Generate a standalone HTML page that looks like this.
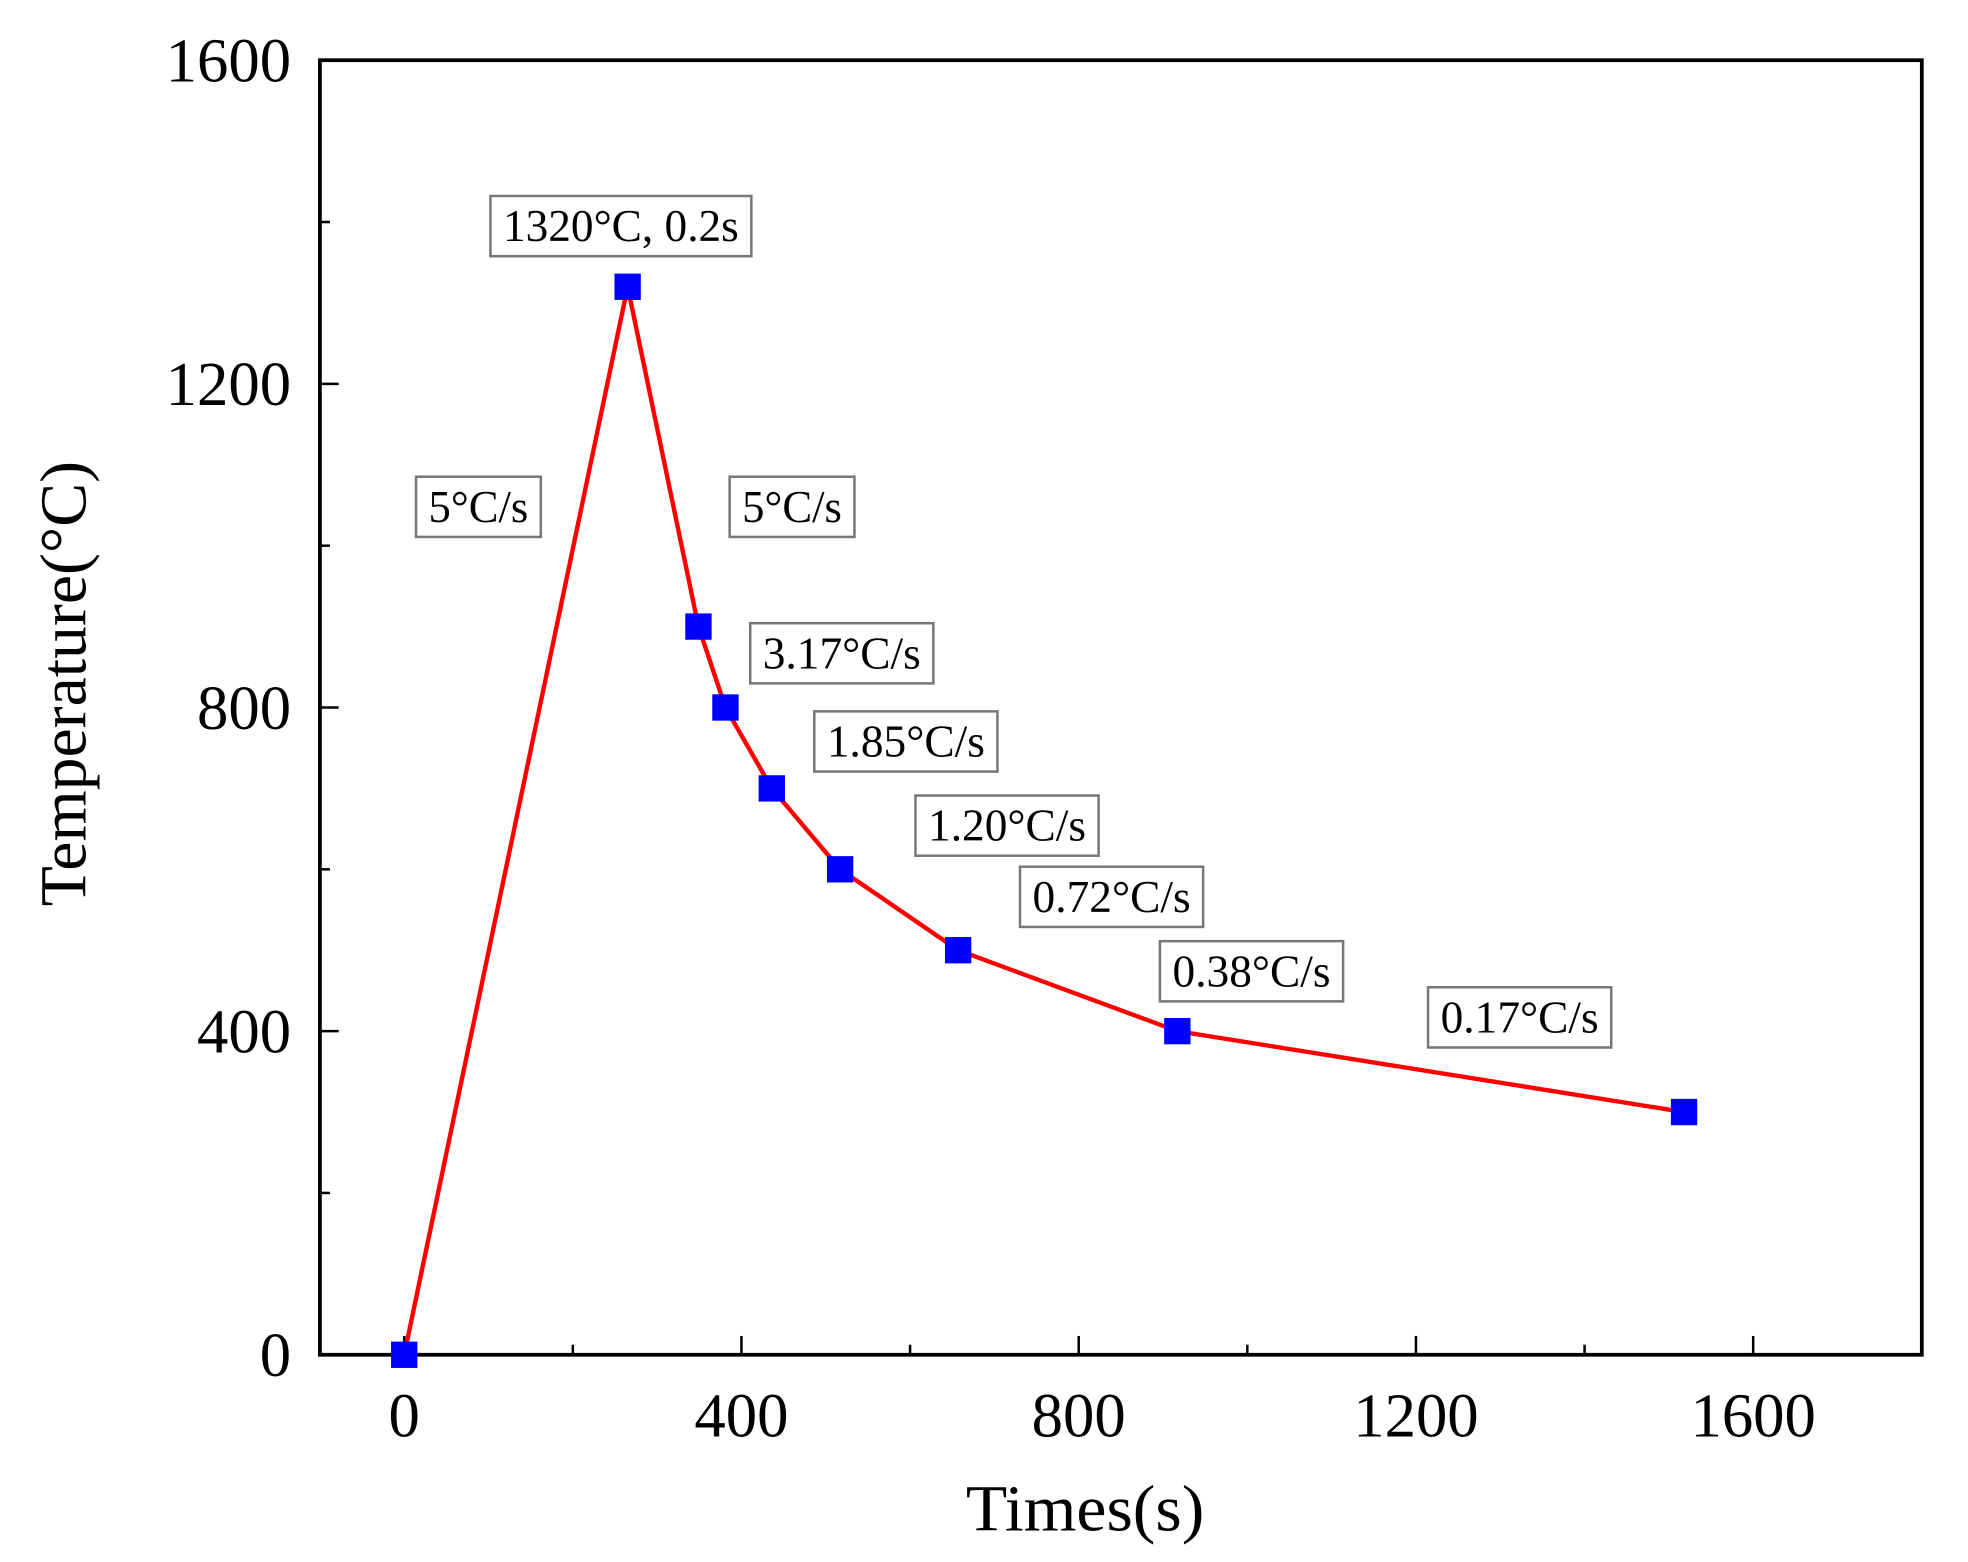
<!DOCTYPE html>
<html><head><meta charset="utf-8"><style>
html,body{margin:0;padding:0;background:#fff}
svg{display:block}
text{font-family:"Liberation Serif",serif;fill:#000}
</style></head><body>
<svg id="chart" width="1968" height="1562" viewBox="0 0 1568.8 1245.2" xmlns="http://www.w3.org/2000/svg">
<g id="axes"></g>
<g id="series"></g>
<g id="notes"></g>
<text x="865" y="1220" font-size="52" text-anchor="middle" textLength="190" lengthAdjust="spacingAndGlyphs">Times(s)</text>
<text transform="translate(68,545) rotate(-90)" font-size="52" text-anchor="middle" textLength="355" lengthAdjust="spacingAndGlyphs">Temperature(°C)</text>
</svg>
<script>
const times=[0,265,349,381,436,517,657,917,1518];
const temps=[0,1320,900,800,700,600,500,400,300];
const xTicks=[0,400,800,1200,1600];
const yTicks=[0,400,800,1200,1600];
const noteTexts=["1320°C, 0.2s","5°C/s","5°C/s","3.17°C/s","1.85°C/s","1.20°C/s","0.72°C/s","0.38°C/s","0.17°C/s"];
const noteT=[257,88,460,519,595,715,839,1005,1323];
const noteV=[1395,1048,1048,867,758,654,566,474,417];
const L=255,R=1532,T=48,B=1080,X0=-100,X1=1800,Y0=0,Y1=1600;
const sx=v=>L+(v-X0)/(X1-X0)*(R-L);
const sy=v=>B-(v-Y0)/(Y1-Y0)*(B-T);
const NS="http://www.w3.org/2000/svg";
function mk(tag,attrs,parent){const e=document.createElementNS(NS,tag);for(const k in attrs)e.setAttribute(k,attrs[k]);parent.appendChild(e);return e;}
const ax=document.getElementById('axes');
let fr=mk('rect',{x:L,y:T,width:R-L,height:B-T,fill:'none',stroke:'#000','stroke-width':3},ax);


for(let v=0;v<X1;v+=200){const major=xTicks.includes(v);
 let t=mk('line',{x1:sx(v),x2:sx(v),y1:B,y2:B-(major?15:8),stroke:'#000','stroke-width':2},ax);
 
 }
xTicks.forEach(v=>{let t=mk('text',{x:sx(v),y:1145,'font-size':50,'text-anchor':'middle'},ax);t.textContent=v;
 
 });
for(let v=200;v<1600;v+=200){const major=yTicks.includes(v);
 let t=mk('line',{x1:L,x2:L+(major?15:8),y1:sy(v),y2:sy(v),stroke:'#000','stroke-width':2},ax);
 
 }
yTicks.forEach(v=>{let t=mk('text',{x:232,y:sy(v)+17,'font-size':50,'text-anchor':'end'},ax);t.textContent=v;
 
 });
const se=document.getElementById('series');
let pl=mk('polyline',{points:times.map((t,i)=>sx(t)+','+sy(temps[i])).join(' '),fill:'none',stroke:'#f00','stroke-width':3.5},se);


times.forEach((t,i)=>{let r=mk('rect',{x:sx(t)-10.5,y:sy(temps[i])-10.5,width:21,height:21,fill:'#0000ff'},se);
 
 });
const no=document.getElementById('notes');
noteTexts.forEach((s,i)=>{const cx=sx(noteT[i]),cy=sy(noteV[i]);
 const w=s.length*15.5+22;
 let g=mk('g',{},no);
 
 
 mk('rect',{x:cx-w/2,y:cy-24,width:w,height:48,fill:'#fff',stroke:'#777','stroke-width':2},g);
 let t=mk('text',{x:cx,y:cy+12,'font-size':36,'text-anchor':'middle',textLength:w-20,lengthAdjust:'spacingAndGlyphs'},g);t.textContent=s;});
</script>
</body></html>
